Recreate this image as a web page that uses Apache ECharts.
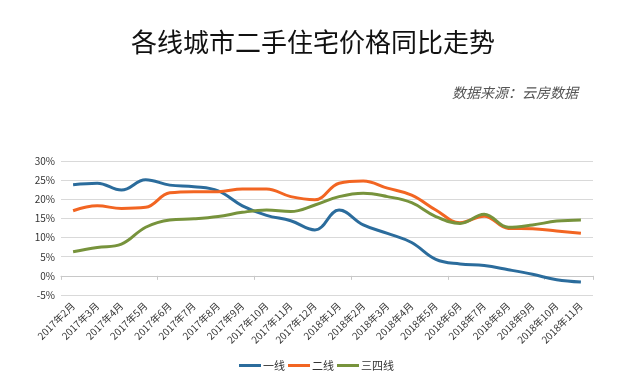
<!DOCTYPE html>
<html>
<head>
<meta charset="utf-8">
<script src="https://cdn.jsdelivr.net/npm/echarts@6/dist/echarts.min.js"></script>
<style>
html,body{margin:0;padding:0;background:#fff;}
#c{width:633px;height:384px;}
</style>
</head>
<body>
<div id="c"></div>
<script>
const categories = ['2017年2月','2017年3月','2017年4月','2017年5月','2017年6月','2017年7月','2017年8月','2017年9月','2017年10月','2017年11月','2017年12月','2018年1月','2018年2月','2018年3月','2018年4月','2018年5月','2018年6月','2018年7月','2018年8月','2018年9月','2018年10月','2018年11月'];
const tier1 = [23.8,24.2,22.4,25.1,23.7,23.3,22.2,18.3,15.8,14.4,12.0,17.2,13.3,11.1,8.7,4.3,3.1,2.7,1.6,0.4,-1.0,-1.6];
const tier2 = [17.0,18.3,17.6,17.9,21.7,22.0,22.0,22.7,22.7,20.7,19.9,24.2,24.8,22.9,21.1,17.2,13.9,15.6,12.4,12.3,11.7,11.1];
const tier34 = [6.3,7.4,8.3,12.7,14.6,14.9,15.5,16.6,17.2,16.8,18.5,20.7,21.6,20.7,19.1,15.5,13.7,16.1,12.7,13.3,14.3,14.6];
const seriesNames = ['一线','二线','三四线'];
const colors = ['#2b6c9c','#f26522','#77933c'];

const chart = echarts.init(document.getElementById('c'), null, {renderer:'canvas'});
const font = '"Noto Sans CJK SC", "Noto Sans", sans-serif';
const mk = (name, data, color) => ({
  name, type:'line', data, smooth:0.4, symbol:'none', xAxisIndex:0,
  lineStyle:{width:3, color}, itemStyle:{color}
});
chart.setOption({
  animation:false,
  textStyle:{fontFamily:font},
  title:[
    {text:'各线城市二手住宅价格同比走势', left:308, top:24, textAlign:'center',
     textStyle:{fontSize:26, fontWeight:'normal', color:'#111', fontFamily:font}},
    {text:'数据来源：云房数据', right:50, top:81,
     textStyle:{fontSize:14, fontWeight:'normal', fontStyle:'italic', color:'#555', fontFamily:font}}
  ],
  legend:{data:seriesNames, left:'center', top:355, itemWidth:22, itemHeight:3, itemGap:3,
    icon:'rect', textStyle:{fontSize:11, color:'#333', padding:[0,0,0,-3]}},
  grid:{left:61, right:40, top:161, bottom:89},
  xAxis:[
    {type:'category', data:categories, boundaryGap:true, position:'bottom',
     axisLine:{show:false, onZero:false}, axisTick:{show:false},
     axisLabel:{rotate:45, fontSize:10, color:'#333', margin:9, interval:0}},
    {type:'category', data:categories, boundaryGap:true, position:'bottom',
     axisLine:{show:true, onZero:true, lineStyle:{color:'#c8c8c8'}},
     axisTick:{show:true, length:4, inside:false, lineStyle:{color:'#c8c8c8'}, alignWithLabel:false},
     axisLabel:{show:false}}
  ],
  yAxis:{type:'value', min:-5, max:30, interval:5,
    axisLine:{show:false}, axisTick:{show:false},
    axisLabel:{formatter:'{value}%', fontSize:10, color:'#333', margin:6},
    splitLine:{lineStyle:{color:'#d9d9d9', width:1}}},
  series:[mk(seriesNames[0], tier1, colors[0]), mk(seriesNames[1], tier2, colors[1]), mk(seriesNames[2], tier34, colors[2])]
});
</script>
</body>
</html>
